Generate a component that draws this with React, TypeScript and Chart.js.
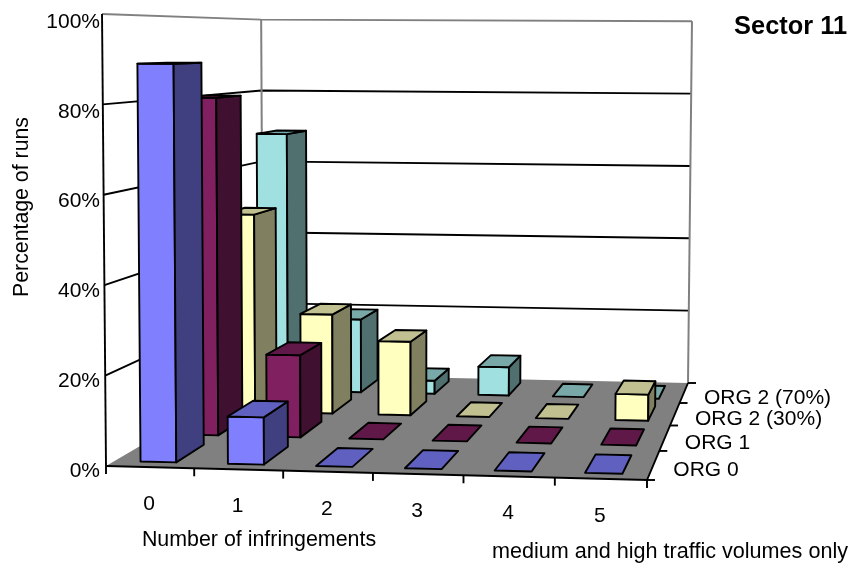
import React, { useEffect, useRef } from "react";
import { Chart, registerables } from "chart.js";

Chart.register(...registerables);

// Values in percent of runs, one list per organisation scheme.
const infringements = ["0", "1", "2", "3", "4", "5"];
const schemes = ["ORG 0", "ORG 1", "ORG 2 (30%)", "ORG 2 (70%)"];
const org0 = [89, 10.5, 0, 0, 0, 0];
const org1 = [80.5, 19.5, 0, 0, 0, 0];
const org2At30 = [50, 25, 18.5, 0, 0, 6.5];
const org2At70 = [69, 19.5, 3.5, 7.5, 0, 0];

const frontColors = ["#8080ff", "#802060", "#ffffc0", "#a0e0e0"];
const sideColors = ["#404080", "#401030", "#808060", "#507070"];
const topColors = ["#6060c0", "#601848", "#c0c090", "#78a8a8"];

const FONT = '"Liberation Sans", Arial, sans-serif';

// Floor quadrilateral of the 3D box, in canvas pixels.
const FL = [106, 466];
const FR = [647, 480];
const BR = [688, 383];
const BL = [263, 374];
const FRONT_HEIGHT = 452; // wall height at the front-left corner
const LEAN = 0.0137; // verticals splay slightly towards the top
const LEAN_CENTRE = 397;
const BAR_WIDTH = 0.41; // share of a category band
const BAR_DEPTH = 0.64; // share of a depth band
const LINE = 1.9;

// Square-to-quad perspective coefficients for the floor.
const dx1 = FR[0] - BR[0];
const dx2 = BL[0] - BR[0];
const dy1 = FR[1] - BR[1];
const dy2 = BL[1] - BR[1];
const sx = FL[0] - FR[0] + BR[0] - BL[0];
const sy = FL[1] - FR[1] + BR[1] - BL[1];
const det = dx1 * dy2 - dx2 * dy1;
const g = (sx * dy2 - dx2 * sy) / det;
const h = (dx1 * sy - sx * dy1) / det;
const a = FR[0] - FL[0] + g * FR[0];
const b = BL[0] - FL[0] + h * BL[0];
const d = FR[1] - FL[1] + g * FR[1];
const e = BL[1] - FL[1] + h * BL[1];

// u: along the front edge, w: into the box, v: up; all 0..1.
function project(u: number, w: number, v: number): [number, number] {
  const q = g * u + h * w + 1;
  const fx = (a * u + b * w + FL[0]) / q;
  const fy = (d * u + e * w + FL[1]) / q;
  return [fx + (fx - LEAN_CENTRE) * LEAN * v, fy - (v * FRONT_HEIGHT) / q];
}

function polyline(ctx: CanvasRenderingContext2D, pts: [number, number][], color: string, width = LINE) {
  ctx.beginPath();
  pts.forEach((p, i) => (i ? ctx.lineTo(p[0], p[1]) : ctx.moveTo(p[0], p[1])));
  ctx.strokeStyle = color;
  ctx.lineWidth = width;
  ctx.stroke();
}

function face(ctx: CanvasRenderingContext2D, pts: [number, number][], fill: string) {
  ctx.beginPath();
  pts.forEach((p, i) => (i ? ctx.lineTo(p[0], p[1]) : ctx.moveTo(p[0], p[1])));
  ctx.closePath();
  ctx.fillStyle = fill;
  ctx.fill();
  ctx.strokeStyle = "#000";
  ctx.lineWidth = LINE;
  ctx.lineJoin = "round";
  ctx.stroke();
}

const box3d = {
  id: "box3d",
  beforeDatasetsDraw(chart: any) {
    const ctx: CanvasRenderingContext2D = chart.ctx;
    const xs = chart.scales.x;
    const ys = chart.scales.y;
    const zs = chart.scales.depth;
    const frac = (value: number) => (ys.bottom - ys.getPixelForValue(value)) / ys.height;
    const uOf = (i: number) => (xs.getPixelForValue(i) - xs.left) / xs.width;
    const wOf = (i: number) => (zs.getPixelForValue(i) - zs.left) / zs.width;
    const nx = infringements.length;
    const nz = schemes.length;

    ctx.save();
    // Gridlines from the y scale's ticks, running along both walls
    ys.ticks.forEach((t: any) => {
      const v = frac(t.value);
      if (v === 0) return;
      polyline(ctx, [project(0, 0, v), project(0, 1, v), project(1, 1, v)], v === 1 ? "#808080" : "#000");
    });
    polyline(ctx, [project(0, 1, 0), project(0, 1, 1)], "#808080", 2);
    polyline(ctx, [project(1, 1, 0), project(1, 1, 1)], "#808080", 2);
    polyline(ctx, [project(0, 0, 0), project(0, 0, 1)], "#000");

    // Floor
    ctx.beginPath();
    [project(0, 0, 0), project(1, 0, 0), project(1, 1, 0), project(0, 1, 0)].forEach((p, i) =>
      i ? ctx.lineTo(p[0], p[1]) : ctx.moveTo(p[0], p[1])
    );
    ctx.closePath();
    ctx.fillStyle = "#808080";
    ctx.fill();
    polyline(ctx, [project(0, 0, 0), project(1, 0, 0), project(1, 1, 0)], "#000");

    // Tick marks on the front and right floor edges
    for (let i = 0; i <= nx; i++) {
      const p = project(i / nx, 0, 0);
      polyline(ctx, [p, [p[0], p[1] + 8]], "#000");
    }
    for (let i = 0; i <= nz; i++) {
      const p = project(1, i / nz, 0);
      polyline(ctx, [p, [p[0] + 8, p[1]]], "#000");
    }

    // Prisms, back row first and left to right
    const halfU = (BAR_WIDTH * 0.5) / nx;
    const halfW = (BAR_DEPTH * 0.5) / nz;
    for (let r = nz - 1; r >= 0; r--) {
      const values: number[] = chart.data.datasets[r].data;
      const w0 = wOf(r) - halfW;
      const w1 = wOf(r) + halfW;
      values.forEach((value, c) => {
        const u0 = uOf(c) - halfU;
        const u1 = uOf(c) + halfU;
        const v = frac(value);
        if (v > 0) {
          face(ctx, [project(u0, w0, 0), project(u1, w0, 0), project(u1, w0, v), project(u0, w0, v)], frontColors[r]);
          face(ctx, [project(u1, w0, 0), project(u1, w1, 0), project(u1, w1, v), project(u1, w0, v)], sideColors[r]);
        }
        face(ctx, [project(u0, w0, v), project(u1, w0, v), project(u1, w1, v), project(u0, w1, v)], topColors[r]);
      });
    }
    ctx.restore();
    return false;
  },
  afterDraw(chart: any) {
    const ctx: CanvasRenderingContext2D = chart.ctx;
    const xs = chart.scales.x;
    const zs = chart.scales.depth;
    ctx.save();
    ctx.fillStyle = "#000";
    ctx.font = `21px ${FONT}`;
    ctx.textBaseline = "middle";

    ctx.textAlign = "center";
    infringements.forEach((label, i) => {
      const p = project((xs.getPixelForValue(i) - xs.left) / xs.width, 0, 0);
      ctx.fillText(label, p[0] - 1, p[1] + 37);
    });
    ctx.textAlign = "left";
    schemes.forEach((label, i) => {
      const p = project(1, (zs.getPixelForValue(i) - zs.left) / zs.width, 0);
      ctx.fillText(label, p[0] + 20, p[1] + 5);
    });

    ctx.font = `21.4px ${FONT}`;
    ctx.textAlign = "center";
    ctx.fillText("Number of infringements", 259, 540);
    ctx.textAlign = "right";
    ctx.font = `21.6px ${FONT}`;
    ctx.fillText("medium and high traffic volumes only", 848, 552);
    ctx.save();
    ctx.translate(22, 207);
    ctx.rotate(-Math.PI / 2);
    ctx.textAlign = "center";
    ctx.font = `21.3px ${FONT}`;
    ctx.fillText("Percentage of runs", 0, 0);
    ctx.restore();

    ctx.textAlign = "right";
    ctx.font = `bold 25.4px ${FONT}`;
    ctx.fillText("Sector 11", 847, 27);
    ctx.restore();
  },
};

export default function App() {
  const ref = useRef<HTMLCanvasElement>(null);
  useEffect(() => {
    document.body.style.margin = "0";
    const chart = new Chart(ref.current as HTMLCanvasElement, {
      type: "bar",
      data: {
        labels: infringements,
        datasets: [
          { label: schemes[0], data: org0, backgroundColor: frontColors[0] },
          { label: schemes[1], data: org1, backgroundColor: frontColors[1] },
          { label: schemes[2], data: org2At30, backgroundColor: frontColors[2] },
          { label: schemes[3], data: org2At70, backgroundColor: frontColors[3] },
        ],
      },
      options: {
        responsive: false,
        animation: false,
        layout: { padding: { left: 43, top: 22, right: 152, bottom: 94 } },
        plugins: { legend: { display: false }, title: { display: false }, tooltip: { enabled: false } },
        scales: {
          x: { type: "category", display: false, offset: true },
          depth: { type: "category", axis: "x", display: false, offset: true, labels: schemes },
          y: {
            type: "linear",
            min: 0,
            max: 100,
            grid: { display: false, drawTicks: false },
            border: { display: false },
            afterFit: (scale: any) => {
              scale.width = 60;
            },
            ticks: {
              stepSize: 20,
              padding: 3,
              color: "#000",
              font: { family: FONT, size: 21 },
              callback: (value: any) => `${value}%`,
            },
          },
        },
      } as any,
      plugins: [box3d as any],
    });
    return () => chart.destroy();
  }, []);
  return <canvas ref={ref} width={852} height={565} style={{ display: "block" }} />;
}
